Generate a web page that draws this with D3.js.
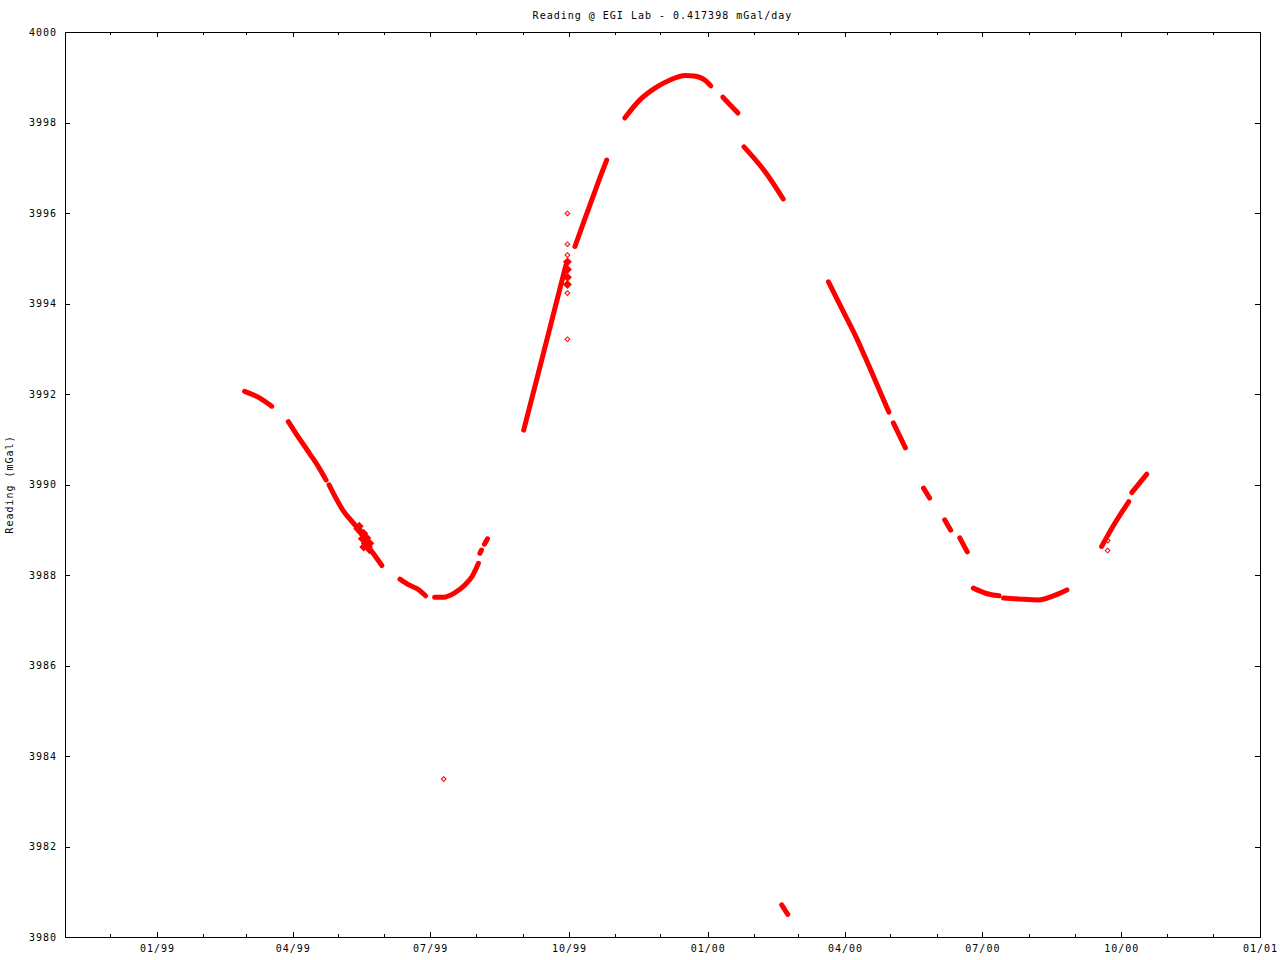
<!DOCTYPE html>
<html><head><meta charset="utf-8">
<script src="https://cdn.jsdelivr.net/npm/d3@7"></script>
<style>
body{margin:0;background:#fff}
text{font-family:"DejaVu Sans Mono","Liberation Mono",monospace;font-size:10px;letter-spacing:1px;fill:#000}
</style>
</head><body><svg id="c" width="1280" height="960"></svg>
<script>
const title = "Reading @ EGI Lab - 0.417398 mGal/day";
const yLabel = "Reading (mGal)";
const xDomain = ["1998-11-01", "2001-01-01"];
const yDomain = [3980, 4000];
const yTicks = [3980, 3982, 3984, 3986, 3988, 3990, 3992, 3994, 3996, 3998, 4000];
const xTickFormat = "%m/%y";

// dense reading runs (each run drawn as a continuous band of points)
const run1 = [["1999-02-28",3992.06],["1999-03-09",3991.93],["1999-03-18",3991.73]];
const run2 = [["1999-03-29",3991.39],["1999-04-03",3991.13],["1999-04-12",3990.69],["1999-04-18",3990.39],["1999-04-23",3990.10]];
const run3 = [["1999-04-25",3989.99],["1999-05-04",3989.44],["1999-05-13",3989.07],["1999-05-17",3988.88],["1999-05-22",3988.63]];
const run4 = [["1999-05-24",3988.49],["1999-05-30",3988.21]];
const run5 = [["1999-06-11",3987.91],["1999-06-17",3987.78],["1999-06-24",3987.66],["1999-06-28",3987.54]];
const run6 = [["1999-07-04",3987.51],["1999-07-10",3987.51],["1999-07-17",3987.60],["1999-07-24",3987.78],["1999-07-29",3987.98],["1999-08-02",3988.26]];
const run7 = [["1999-08-03",3988.48],["1999-08-04",3988.55]];
const run8 = [["1999-08-06",3988.68],["1999-08-08",3988.80]];
const run9 = [["1999-09-01",3991.20],["1999-09-15",3993.02],["1999-09-29",3994.85]];
const run10 = [["1999-10-05",3995.26],["1999-10-11",3995.82],["1999-10-21",3996.73],["1999-10-26",3997.17]];
const run11 = [["1999-11-07",3998.10],["1999-11-17",3998.50],["1999-11-27",3998.76],["1999-12-07",3998.94],["1999-12-17",3999.04],["1999-12-23",3999.03],["1999-12-30",3998.94],["2000-01-03",3998.81]];
const run12 = [["2000-01-11",3998.56],["2000-01-21",3998.21]];
const run13 = [["2000-01-25",3997.46],["2000-02-08",3996.91],["2000-02-20",3996.31]];
const run14 = [["2000-02-19",3980.71],["2000-02-23",3980.50]];
const run15 = [["2000-03-21",3994.48],["2000-03-29",3993.94],["2000-04-08",3993.28],["2000-04-18",3992.53],["2000-04-30",3991.60]];
const run16 = [["2000-05-03",3991.36],["2000-05-11",3990.81]];
const run17 = [["2000-05-23",3989.92],["2000-05-27",3989.70]];
const run18 = [["2000-06-06",3989.22],["2000-06-10",3988.99]];
const run19 = [["2000-06-16",3988.82],["2000-06-21",3988.51]];
const run20 = [["2000-06-25",3987.71],["2000-07-05",3987.58],["2000-07-12",3987.54]];
const run21 = [["2000-07-15",3987.49],["2000-07-25",3987.47],["2000-08-07",3987.45],["2000-08-17",3987.54],["2000-08-26",3987.67]];
const run22 = [["2000-09-18",3988.63],["2000-09-26",3989.10],["2000-10-06",3989.62]];
const run23 = [["2000-10-08",3989.82],["2000-10-18",3990.23]];
const runs = [run1,run2,run3,run4,run5,run6,run7,run8,run9,run10,run11,run12,run13,run14,run15,run16,run17,run18,run19,run20,run21,run22,run23];

// clustered readings (filled points)
const clusterPoints = [["1999-05-14",3989.02],["1999-05-15",3989.08],["1999-05-16",3988.95],["1999-05-17",3988.80],["1999-05-18",3988.92],["1999-05-19",3988.70],["1999-05-20",3988.82],["1999-05-21",3988.62],["1999-05-22",3988.70],["1999-05-22",3988.55],["1999-05-18",3988.62],
  ["1999-09-30",3994.92],["1999-09-30",3994.75],["1999-09-30",3994.58],["1999-09-30",3994.42]];

// isolated readings (hollow points)
const outlierDates = ["1999-09-30","1999-09-30","1999-09-30","1999-09-30","1999-09-30","1999-09-30","1999-07-10","2000-09-22","2000-09-22"];
const outlierValues = [3995.99,3995.31,3995.07,3994.91,3994.23,3993.21,3983.49,3988.76,3988.54];

const parse = d3.timeParse("%Y-%m-%d");
const L = 65, R = 1260, T = 32, B = 937;
const svg = d3.select("#c");
const x = d3.scaleTime().domain(xDomain.map(parse)).range([L, R]);
const y = d3.scaleLinear().domain(yDomain).range([B, T]);

// title
svg.append("text").attr("x", (L+R)/2).attr("y", 19).attr("text-anchor","middle").text(title);
// y label
svg.append("text").attr("transform", `translate(13,${(T+B)/2}) rotate(-90)`).attr("text-anchor","middle").text(yLabel);

// axes
const majors = d3.timeMonth.every(3).range(x.domain()[0], d3.timeDay.offset(x.domain()[1],1));
const allMonths = d3.timeMonth.range(x.domain()[0], d3.timeDay.offset(x.domain()[1],1));
const minors = allMonths.filter(d => d.getMonth() % 3 !== 0);

const gB = svg.append("g").attr("transform",`translate(0,${B})`)
  .call(d3.axisBottom(x).tickValues(majors).tickFormat(d3.timeFormat(xTickFormat)).tickSizeInner(-5).tickSizeOuter(0).tickPadding(8));
const gT = svg.append("g").attr("transform",`translate(0,${T})`)
  .call(d3.axisTop(x).tickValues(majors).tickFormat("").tickSizeInner(-5).tickSizeOuter(0));
const gL = svg.append("g").attr("transform",`translate(${L},0)`)
  .call(d3.axisLeft(y).tickValues(yTicks).tickFormat(d3.format("d")).tickSizeInner(-5).tickSizeOuter(0).tickPadding(8));
const gR = svg.append("g").attr("transform",`translate(${R},0)`)
  .call(d3.axisRight(y).tickValues(yTicks).tickFormat("").tickSizeInner(-5).tickSizeOuter(0));
[gB,gT,gL,gR].forEach(g => {
  g.select(".domain").remove();
  g.selectAll("line").attr("stroke","#000").attr("shape-rendering","crispEdges");
  g.attr("font-family",null).attr("font-size",null);
});
// minor ticks
svg.append("g").selectAll("line").data(minors).join("line")
  .attr("x1",d=>x(d)).attr("x2",d=>x(d)).attr("y1",B).attr("y2",B-3)
  .attr("stroke","#000").attr("shape-rendering","crispEdges");
svg.append("g").selectAll("line").data(minors).join("line")
  .attr("x1",d=>x(d)).attr("x2",d=>x(d)).attr("y1",T).attr("y2",T+3)
  .attr("stroke","#000").attr("shape-rendering","crispEdges");
// frame
svg.append("rect").attr("x",L).attr("y",T).attr("width",R-L).attr("height",B-T)
  .attr("fill","none").attr("stroke","#000").attr("shape-rendering","crispEdges");

// data runs
const line = d3.line().x(d=>x(parse(d[0]))).y(d=>y(d[1])).curve(d3.curveMonotoneX);
svg.append("g").selectAll("path").data(runs).join("path")
  .attr("d", line).attr("fill","none").attr("stroke","#ff0000")
  .attr("stroke-width",5).attr("stroke-linecap","round").attr("stroke-linejoin","round");

svg.append("g").selectAll("path").data(clusterPoints).join("path")
  .attr("d", d3.symbol().type(d3.symbolSquare).size(40)())
  .attr("transform", d=>`translate(${x(parse(d[0]))},${y(d[1])}) rotate(45)`)
  .attr("fill","#ff0000");

svg.append("g").selectAll("path").data(outlierDates.map((d,i)=>[d,outlierValues[i]])).join("path")
  .attr("d", d3.symbol().type(d3.symbolSquare).size(11)())
  .attr("transform", d=>`translate(${x(parse(d[0]))},${y(d[1])}) rotate(45)`)
  .attr("fill","none").attr("stroke","#ff0000").attr("stroke-width",1);
</script>
</body></html>
